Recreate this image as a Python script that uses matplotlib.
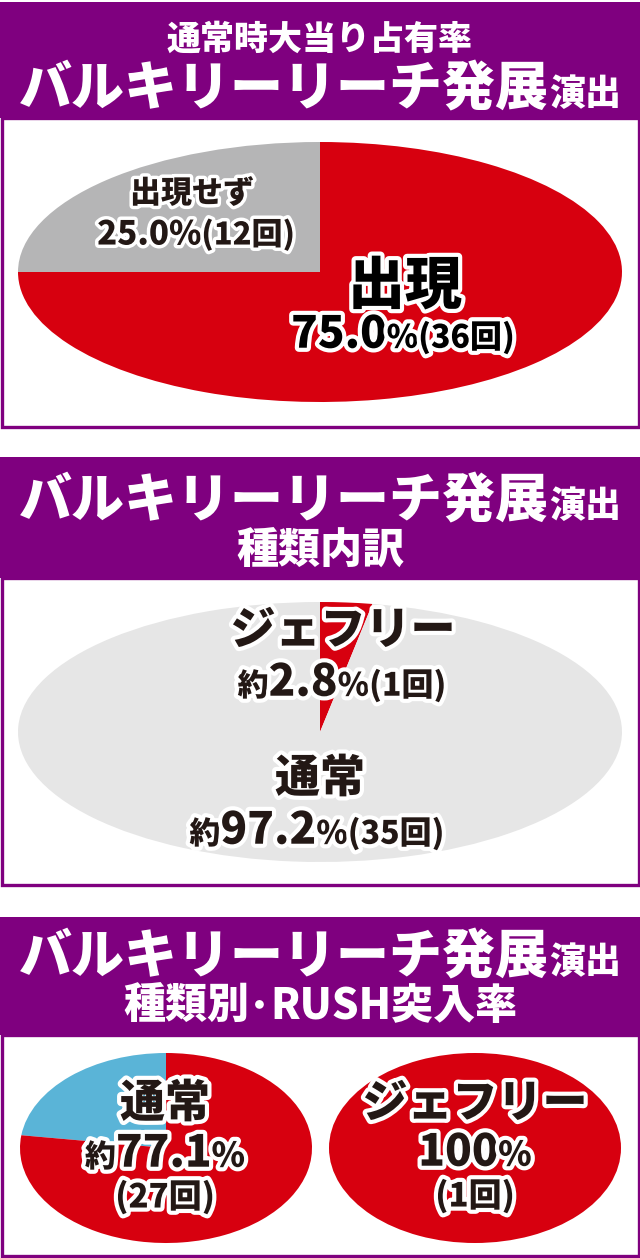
import matplotlib
matplotlib.use("Agg")
import matplotlib.pyplot as plt
from matplotlib.patches import Rectangle
import matplotlib.patheffects as pe

plt.rcParams['font.family'] = ['Noto Sans CJK JP', 'DejaVu Sans']

# ---------------- data ----------------
title1_small = "通常時大当り占有率"
title_main = "バルキリーリーチ発展"
title_main_suffix = "演出"
title2_sub = "種類内訳"
title3_sub = ["種類別", "･", "RUSH突入率"]

p1_labels = ["出現せず", "出現"]
p1_counts = [12, 36]
p1_pct = [25.0, 75.0]

p2_labels = ["ジェフリー", "通常"]
p2_counts = [1, 35]
p2_pct = [2.8, 97.2]

p3a_label = "通常"
p3a_counts = [8, 27]          # not RUSH, RUSH
p3a_pct = 77.1
p3b_label = "ジェフリー"
p3b_counts = [1]
p3b_pct = 100

# ---------------- style ----------------
PURPLE = "#7f007f"
RED = "#d7000f"
GRAY1 = "#b5b5b6"
GRAY2 = "#e6e6e6"
BLUE = "#5ab4d7"
DARK = "#231815"
W, H = 640, 1258

fig = plt.figure(figsize=(W / 100, H / 100), dpi=100)
bg = fig.add_axes([0, 0, 1, 1])
bg.set_xlim(0, W)
bg.set_ylim(H, 0)
bg.axis('off')


def panel(top, boxtop, bottom):
    bg.add_patch(Rectangle((0, top), W, boxtop - top, facecolor=PURPLE, edgecolor='none'))
    bg.add_patch(Rectangle((1.5, boxtop), W - 3, bottom - boxtop, facecolor='white',
                           edgecolor=PURPLE, linewidth=2.4))


panel(2, 118, 427)
panel(457, 578, 885)
panel(917, 1035, 1256)


def pie_axes(x0, y0, x1, y1, values, colors, startangle, counterclock):
    ax = fig.add_axes([x0 / W, 1 - y1 / H, (x1 - x0) / W, (y1 - y0) / H])
    ax.pie(values, colors=colors, startangle=startangle, counterclock=counterclock,
           radius=1, wedgeprops=dict(linewidth=0))
    ax.set_aspect('auto')
    ax.set_xlim(-1, 1)
    ax.set_ylim(-1, 1)
    ax.axis('off')
    return ax


pie_axes(18, 142, 622, 402, p1_counts, [GRAY1, RED], 90, True)
pie_axes(18, 602, 622, 862, p2_counts, [RED, GRAY2], 90, False)
pie_axes(20, 1053, 312, 1243, p3a_counts, [BLUE, RED], 90, True)
pie_axes(329, 1053, 621, 1243, p3b_counts, [RED], 90, True)

tx = fig.add_axes([0, 0, 1, 1])
tx.set_xlim(0, W)
tx.set_ylim(H, 0)
tx.axis('off')
tx.patch.set_alpha(0)

renderer = fig.canvas.get_renderer()


def seg_line(xc, yc, segs, color, stroke=0):
    """segs: list of (text, px). yc: visual centre of the largest segment."""
    big = max(px for _, px in segs)
    yb = yc + 0.38 * big
    objs = []
    for s, px in segs:
        kw = {}
        if stroke:
            kw['path_effects'] = [pe.withStroke(linewidth=stroke, foreground='white')]
        t = tx.text(0, yb, s, fontsize=px * 0.72, fontweight='heavy', color=color,
                    ha='left', va='baseline', **kw)
        objs.append(t)
    widths = [o.get_window_extent(renderer).width for o in objs]
    x = xc - sum(widths) / 2
    for o, w in zip(objs, widths):
        o.set_x(x)
        x += w


# headers
seg_line(320, 37, [(title1_small, 34)], 'white')
seg_line(320, 85, [(title_main, 53), (title_main_suffix, 36)], 'white')
seg_line(320, 497, [(title_main, 53), (title_main_suffix, 36)], 'white')
seg_line(320, 548, [(title2_sub, 42)], 'white')
seg_line(320, 953, [(title_main, 53), (title_main_suffix, 36)], 'white')
seg_line(320, 1003, [(title3_sub[0], 42), (title3_sub[1], 42), (title3_sub[2], 42)], 'white')

# panel 1 labels
seg_line(192, 191, [(p1_labels[0], 31)], DARK, stroke=5)
seg_line(196, 232, [(f"{p1_pct[0]:.1f}%", 33), (f"({p1_counts[0]}回)", 31)], DARK, stroke=5)
seg_line(405, 282, [(p1_labels[1], 57)], 'black', stroke=6)
seg_line(403, 331, [(f"{p1_pct[1]:.1f}", 44), ("%", 32), (f"({p1_counts[1]}回)", 32)], 'black', stroke=6)

# panel 2 labels
seg_line(343, 627, [(p2_labels[0], 45)], DARK, stroke=6)
seg_line(342, 679, [("約", 31), (f"{p2_pct[0]:.1f}", 44), ("%", 32), (f"({p2_counts[0]}回)", 32)], DARK, stroke=6)
seg_line(320, 775, [(p2_labels[1], 45)], DARK, stroke=6)
seg_line(317, 827, [("約", 31), (f"{p2_pct[1]:.1f}", 44), ("%", 32), (f"({p2_counts[1]}回)", 32)], DARK, stroke=6)

# panel 3 labels
seg_line(165, 1100, [(p3a_label, 45)], DARK, stroke=6)
seg_line(165, 1150, [("約", 31), (f"{p3a_pct:.1f}", 44), ("%", 34)], DARK, stroke=6)
seg_line(165, 1195, [(f"({p3a_counts[1]}回)", 33)], DARK, stroke=6)
seg_line(475, 1100, [(p3b_label, 45)], DARK, stroke=6)
seg_line(475, 1149, [(f"{p3b_pct}", 44), ("%", 34)], DARK, stroke=6)
seg_line(475, 1194, [(f"({p3b_counts[0]}回)", 33)], DARK, stroke=6)

fig.savefig("out.png", dpi=100)
